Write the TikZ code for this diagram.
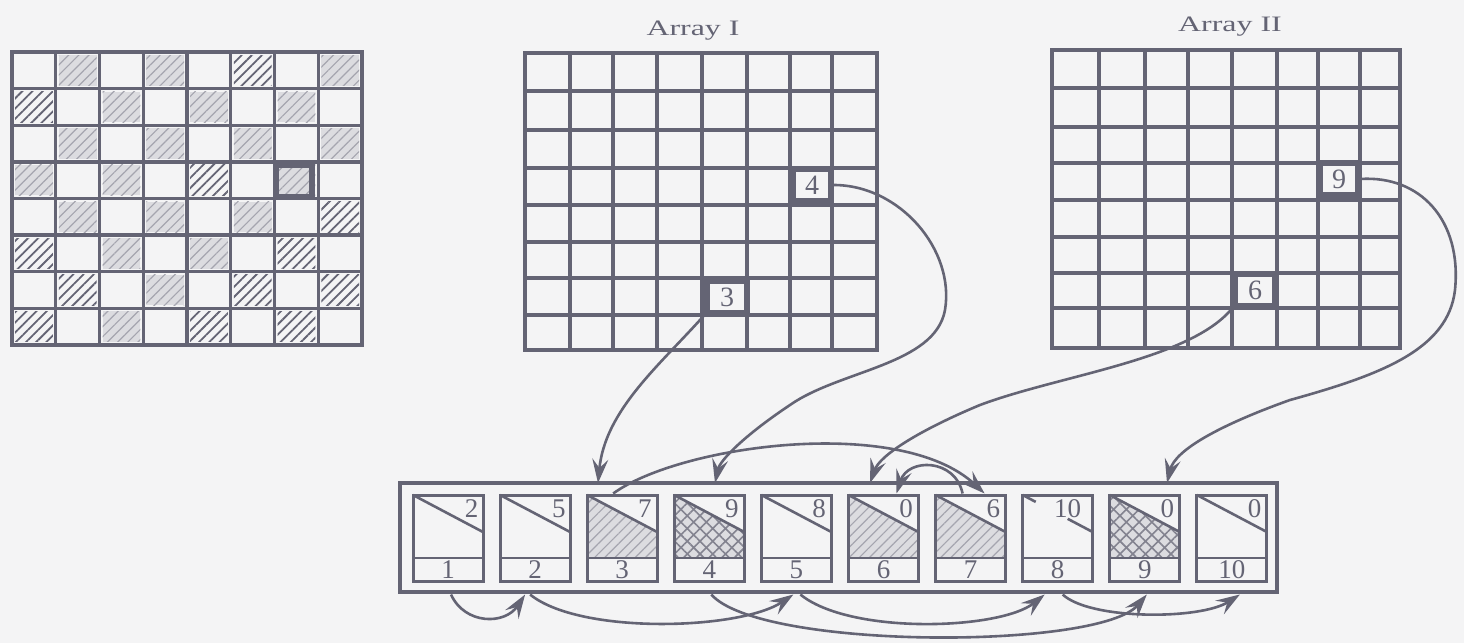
\documentclass[tikz,border=0pt]{standalone}
\usepackage{fontspec}
\setmainfont{Liberation Serif}
\usetikzlibrary{patterns.meta,arrows.meta,calc}
\definecolor{ink}{RGB}{100,100,116}
\definecolor{paper}{RGB}{244,244,245}
\definecolor{shade}{RGB}{220,220,224}
\definecolor{hatchink}{RGB}{165,165,175}
\tikzset{
  gridline/.style={draw=ink, line width=1.7pt, line cap=round},
  gridframe/.style={draw=ink, line width=2.1pt},
  hilite/.style={draw=ink, line width=2.6pt, fill=paper, inner sep=0pt, font=\fontsize{14}{16}\selectfont, text=ink},
  hatchd/.style={preaction={fill=paper}, pattern={Lines[angle=45,distance=3.6pt,line width=0.9pt]}, pattern color=ink},
  hatchg/.style={preaction={fill=shade}, pattern={Lines[angle=45,distance=3.6pt,line width=0.6pt]}, pattern color=hatchink},
  crossh/.style={preaction={fill=shade}, pattern={Hatch[angle=45,distance=4.5pt,line width=0.8pt]}, pattern color=ink!80},
  plain/.style={},
  link/.style={draw=ink, line width=1.3pt, -{Stealth[length=12pt,width=8pt,inset=4.5pt]}},
  title/.style={font=\fontsize{11}{13}\selectfont, text=ink, xscale=1.45, inner sep=0pt},
  boxnum/.style={font=\fontsize{13.5}{15}\selectfont, text=ink, inner sep=0.6pt},
  slot/.style={draw=ink, line width=1.5pt, inner sep=0pt, minimum width=35pt, minimum height=43pt},
  boxline/.style={draw=ink, line width=1.3pt},
  frame/.style={draw=ink, line width=1.6pt, inner sep=0pt, minimum width=438.5pt, minimum height=54.5pt},
}
\begin{document}
\begin{tikzpicture}[x=0.5pt,y=-0.5pt]
\fill[paper] (0,0) rectangle (1464,643);
\useasboundingbox (0,0) rectangle (1464,643);

% ---------- left board ----------
\foreach \r/\c/\s in {0/1/g,0/3/g,0/5/d,0/7/g,
  1/0/d,1/2/g,1/4/g,1/6/g,
  2/1/g,2/3/g,2/5/g,2/7/g,
  3/0/g,3/2/g,3/4/d,3/6/g,
  4/1/g,4/3/g,4/5/g,4/7/d,
  5/0/d,5/2/g,5/4/g,5/6/d,
  6/1/d,6/3/g,6/5/d,6/7/d,
  7/0/d,7/2/g,7/4/d,7/6/d}
  \path[hatch\s] ({15+\c*43.75},{55+\r*36.625}) rectangle ++(37.75,30.6);
\foreach \i in {0,...,8} {
  \draw[gridline] ({12+\i*43.75},52) -- ({12+\i*43.75},345);
  \draw[gridline] (12,{52+\i*36.625}) -- (362,{52+\i*36.625});
}
\draw[gridframe] (12,52) rectangle (362,345);
\draw[draw=ink, line width=2.6pt] (276,165) rectangle (312,197);

% ---------- Array I ----------
\foreach \x in {525,570,613,657,702,747,790,832,877}
  \draw[gridline] (\x,53) -- (\x,350);
\foreach \y in {53,91,130,168,205,242,278,315,350}
  \draw[gridline] (525,\y) -- (877,\y);
\draw[gridframe] (525,53) rectangle (877,350);
\node[title] (tI) at (693,31) {Array I};
\node[hilite, minimum width=19pt, minimum height=16pt] (a4) at (812,185) {4};
\node[hilite, minimum width=20pt, minimum height=15.5pt] (a3) at (727,297) {3};

% ---------- Array II ----------
\foreach \x in {1052,1099,1145,1188,1232,1277,1318,1360,1400}
  \draw[gridline] (\x,50) -- (\x,348);
\foreach \y in {50,88,127,163,200,237,273,308,348}
  \draw[gridline] (1052,\y) -- (1400,\y);
\draw[gridframe] (1052,50) rectangle (1400,348);
\node[title] (tII) at (1230,27) {Array II};
\node[hilite, minimum width=18.5pt, minimum height=16pt] (a9) at (1339,179) {9};
\node[hilite, minimum width=20pt, minimum height=15.5pt] (a6) at (1255,290) {6};

% ---------- record table ----------
\node[frame] (fr) at (838.5,537.5) {};
\foreach \i/\u/\s/\ux in {1/2/plain/67,2/5/plain/67,3/7/hatchg/66,4/9/crossh/66,5/8/plain/66,
    6/0/hatchg/66,7/6/hatchg/66,8/10/plain/60,9/0/crossh/66,10/0/plain/66} {
  \pgfmathsetmacro\L{413+87.1*(\i-1)}
  \fill[paper] (\L,495) rectangle ({\L+70},581);
  \path[\s] (\L,495) -- ({\L+70},532) -- ({\L+70},558) -- (\L,558) -- cycle;
  \ifnum\i=8
    \draw[boxline] (\L,495) -- ({\L+13},501.9);
    \draw[boxline] ({\L+45},518.8) -- ({\L+70},532);
  \else
    \draw[boxline] (\L,495) -- ({\L+70},532);
  \fi
  \draw[boxline] (\L,558) -- ({\L+70},558);
  \node[slot] (b\i) at ({\L+35},538) {};
  \node[boxnum, anchor=east] (u\i) at ({\L+\ux},509) {\u};
  \node[boxnum] (n\i) at ({\L+35},570) {\i};
}

% ---------- connectors ----------
\coordinate (p3) at (598,483);
\coordinate (p4) at (715,483);
\coordinate (p6) at (870,483);
\coordinate (p9) at (1167,483);
\draw[link] (a3.south west) .. controls (660,365) and (605,410) .. (p3);
\draw[link] (a4.east) .. controls (900,185) and (955,250) .. (945,310)
  .. controls (935,365) and (840,370) .. (790,405)
  .. controls (745,435) and (720,460) .. (p4);
\draw[link] (a6.south west) .. controls (1190,360) and (1060,375) .. (980,405)
  .. controls (920,430) and (880,455) .. (p6);
\draw[link] (a9.east) .. controls (1420,175) and (1462,220) .. (1455,290)
  .. controls (1448,350) and (1380,375) .. (1290,400)
  .. controls (1220,425) and (1175,450) .. (p9);

% list links above the table
\draw[link] ($(b3.north)+(-9,0)$) .. controls (680,445) and (900,415) .. ($(b7.north)+(14,0)$);
\draw[link] ($(b7.north)+(-8,0)$) .. controls (955,458) and (908,458) .. ($(b6.north)+(13,0)$);

% list links below the table
\draw[link] ($(b1.south)+(3,12)$) .. controls (465,625) and (505,625) .. ($(b2.south)+(-10,12)$);
\draw[link] ($(b2.south)+(-5,12)$) .. controls (580,635) and (740,630) .. ($(b5.south)+(-3,12)$);
\draw[link] ($(b5.south)+(4,12)$) .. controls (850,635) and (1000,630) .. ($(b8.south)+(-13,12)$);
\draw[link] ($(b4.south)+(2,12)$) .. controls (760,650) and (1100,650) .. ($(b9.south)+(2,12)$);
\draw[link] ($(b8.south)+(5,12)$) .. controls (1090,620) and (1200,620) .. ($(b10.south)+(8,12)$);
\end{tikzpicture}
\end{document}
